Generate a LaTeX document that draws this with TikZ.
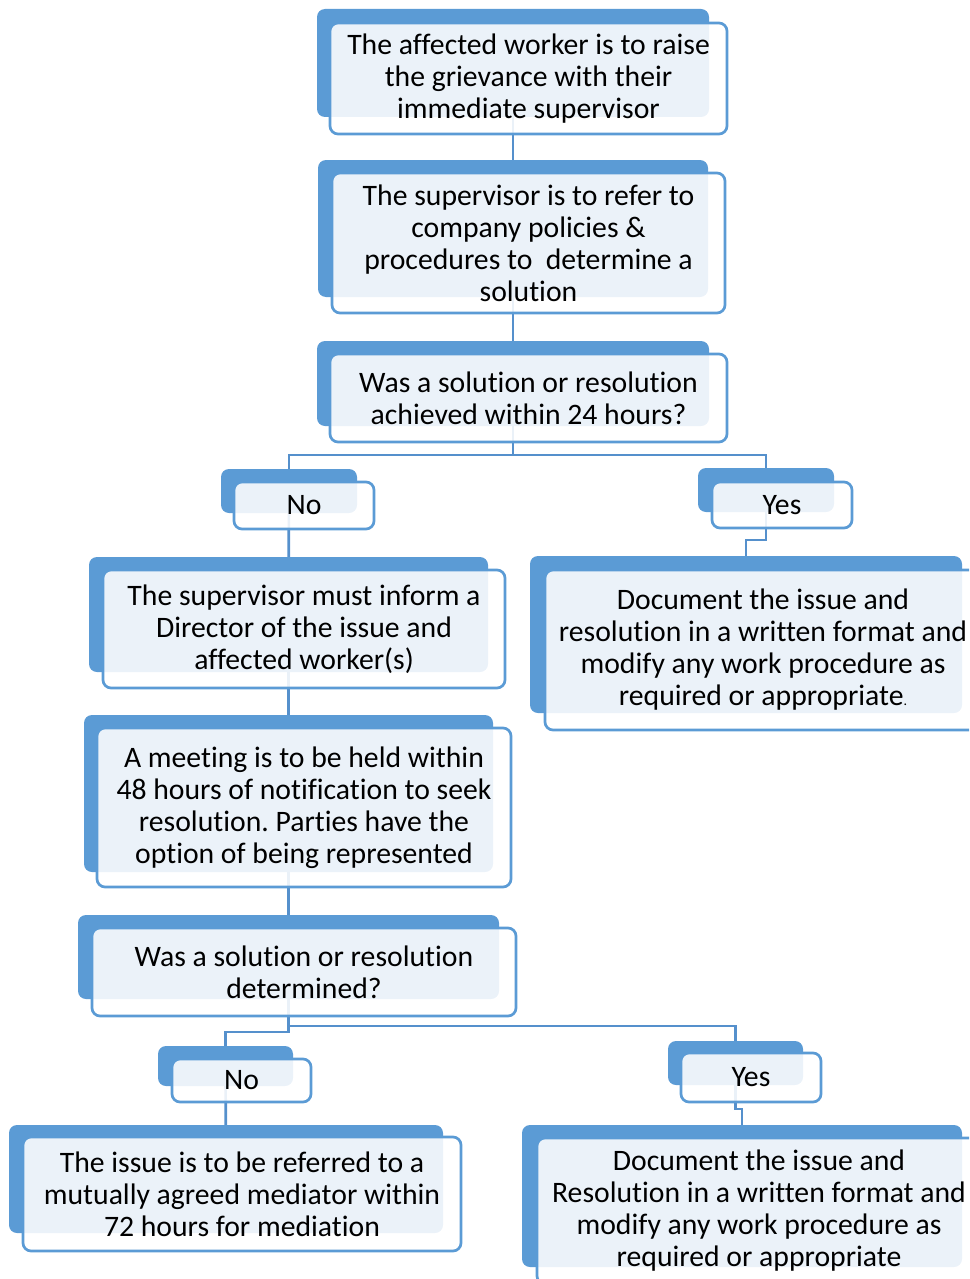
\documentclass[tikz,border=0pt]{standalone}
\usepackage{fontspec}
\setmainfont{Carlito}[Ligatures=NoCommon]
\frenchspacing
\definecolor{sablue}{HTML}{5B9BD5}
\definecolor{linkblue}{HTML}{5590CC}
\begin{document}
\begin{tikzpicture}[x=1pt,y=-1pt,
  backbox/.style={rectangle, rounded corners=8pt, fill=sablue, inner sep=0pt, outer sep=0pt},
  frontbox/.style={rectangle, rounded corners=8pt, draw=sablue, line width=2.7pt, fill=white, fill opacity=0.88, text opacity=1, inner sep=0pt, outer sep=0pt, align=center, font=\fontsize{29.7}{32}\selectfont},
  link/.style={draw=linkblue, line width=2.7pt}]
\useasboundingbox (0,0) rectangle (969,1279);
\clip (0,0) rectangle (969,1279);
% back boxes positions (connectors use back centres)
\coordinate (c1) at (513,63);
\coordinate (c2) at (513,228.5);
\coordinate (c3) at (513,383.5);
\coordinate (cno) at (289,491);
\coordinate (cyes) at (766,490);
\coordinate (c4) at (288.5,614.5);
\coordinate (c5) at (746,634.5);
\coordinate (c6) at (288.5,793.5);
\coordinate (c7) at (288.5,957);
\coordinate (cno2) at (225.5,1066);
\coordinate (cyes2) at (735.5,1063);
\coordinate (c8) at (226,1179);
\coordinate (c9) at (742,1196);
% connectors
\draw[link] (c1) -- (c2);
\draw[link] (c2) -- (c3);
\draw[link] (c3) |- (513,455) -| (cno);
\draw[link] (c3) |- (513,455) -| (cyes);
\draw[link] (cno) -- (c4);
\draw[link] (cyes) |- (746,540) -- (c5);
\draw[link] (c4) -- (c6);
\draw[link] (c6) -- (c7);
\draw[link] (c7) |- (735.5,1026) -- (cyes2);
\draw[link] (c7) |- (225.5,1032) -- (cno2);
\draw[link] (cno2) -- (c8);
\draw[link] (cyes2) |- (742,1109) -- (c9);
% back boxes
\node[backbox, minimum width=392pt, minimum height=108pt] (b1) at (c1) {};
\node[backbox, minimum width=390pt, minimum height=137pt] (b2) at (c2) {};
\node[backbox, minimum width=392pt, minimum height=85pt] (b3) at (c3) {};
\node[backbox, minimum width=136pt, minimum height=44pt] (bno) at (cno) {};
\node[backbox, minimum width=136pt, minimum height=44pt] (byes) at (cyes) {};
\node[backbox, minimum width=399pt, minimum height=115pt] (b4) at (c4) {};
\node[backbox, minimum width=432pt, minimum height=157pt] (b5) at (c5) {};
\node[backbox, minimum width=409pt, minimum height=157pt] (b6) at (c6) {};
\node[backbox, minimum width=421pt, minimum height=84pt] (b7) at (c7) {};
\node[backbox, minimum width=135pt, minimum height=40pt] (bno2) at (cno2) {};
\node[backbox, minimum width=135pt, minimum height=44pt] (byes2) at (cyes2) {};
\node[backbox, minimum width=434pt, minimum height=108pt] (b8) at (c8) {};
\node[backbox, minimum width=440pt, minimum height=142pt] (b9) at (c9) {};
% front boxes with text
\node[frontbox, minimum width=397pt, minimum height=111pt] (f1) at (528.5,78.5)
  {The affected worker is to raise\\the grievance with their\\immediate supervisor};
\node[frontbox, minimum width=393pt, minimum height=140pt] (f2) at (528.5,243)
  {The supervisor is to refer to\\company policies \&\\procedures to~ determine a\\solution};
\node[frontbox, minimum width=397pt, minimum height=88pt] (f3) at (528.5,398)
  {Was a solution or resolution\\achieved within 24 hours?};
\node[frontbox, minimum width=140pt, minimum height=47pt] (fno) at (304,505.5) {No};
\node[frontbox, minimum width=140pt, minimum height=46pt] (fyes) at (782,505) {Yes};
\node[frontbox, minimum width=402pt, minimum height=118pt] (f4) at (304,629)
  {The supervisor must inform a\\Director of the issue and\\affected worker(s)};
\node[frontbox, minimum width=436pt, minimum height=160pt] (f5) at (763,650)
  {Document the issue and\\resolution in a written format and\\modify any work procedure as\\required or appropriate{\fontsize{14}{14}\selectfont .}};
\node[frontbox, minimum width=414pt, minimum height=159pt] (f6) at (304,807.5)
  {A meeting is to be held within\\48 hours of notification to seek\\resolution. Parties have the\\option of being represented};
\node[frontbox, minimum width=424pt, minimum height=88pt] (f7) at (304,972)
  {Was a solution or resolution\\determined?};
\node[frontbox, minimum width=139pt, minimum height=43pt] (fno2) at (241.5,1080.5) {No};
\node[frontbox, minimum width=140pt, minimum height=49pt] (fyes2) at (751,1077.5) {Yes};
\node[frontbox, minimum width=438pt, minimum height=114pt] (f8) at (242,1194)
  {The issue is to be referred to a\\mutually agreed mediator within\\72 hours for mediation};
\node[frontbox, minimum width=444pt, minimum height=146pt] (f9) at (759,1211)
  {Document the issue and\\Resolution in a written format and\\modify any work procedure as\\required or appropriate};
\end{tikzpicture}
\end{document}
